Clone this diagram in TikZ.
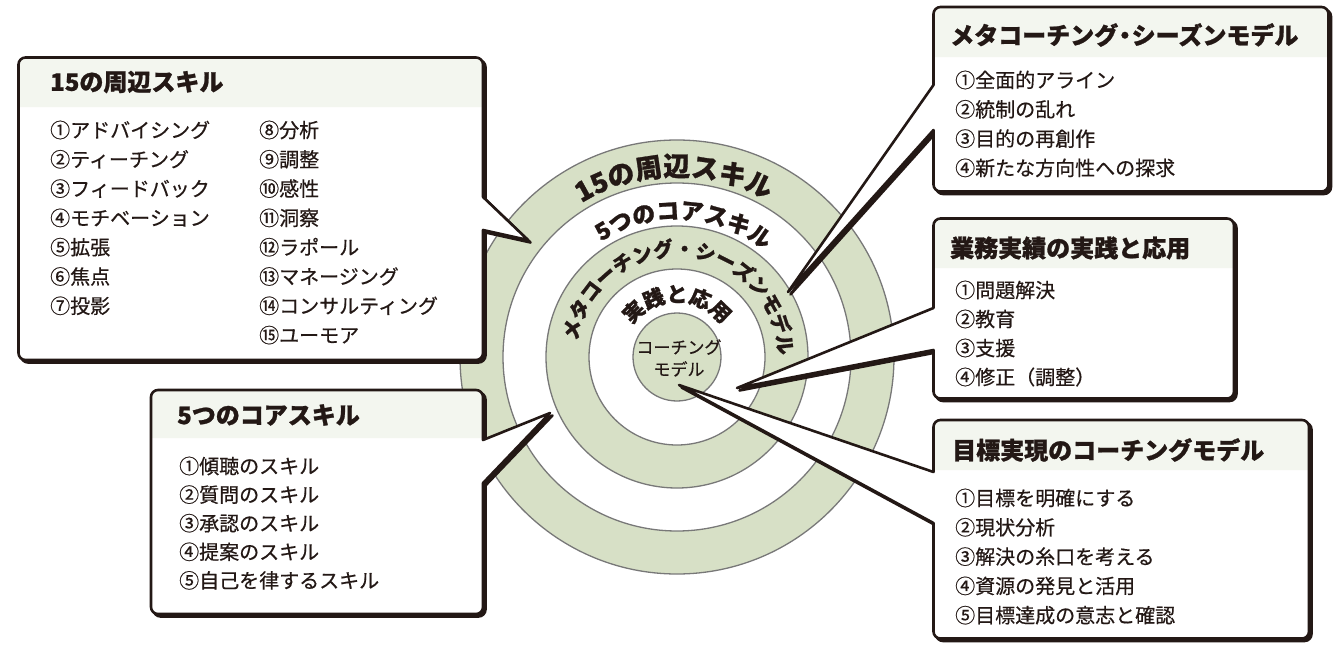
\documentclass[tikz,border=0pt]{standalone}
\usepackage{fontspec}
\setmainfont{Noto Sans CJK JP}
\newfontfamily\heavyjp[FakeBold=1]{Noto Sans CJK JP}
\newfontfamily\itemjp[FakeBold=0.5]{Noto Sans CJK JP}
\usetikzlibrary{decorations.text}
\definecolor{ink}{HTML}{231815}
\definecolor{ringgreen}{RGB}{215,224,198}
\definecolor{ringline}{RGB}{120,120,120}
\definecolor{headfill}{RGB}{243,246,239}
\def\rr{7}
% callout with tail on the right edge: x1 y1 x2 y2 ta tb tipx tipy
\newcommand\boxpathR[8]{(#1,#2+\rr) arc[start angle=180,end angle=270,radius=\rr] -- (#3-\rr,#2) arc[start angle=270,end angle=360,radius=\rr] -- (#3,#5) -- (#7,#8) -- (#3,#6) -- (#3,#4-\rr) arc[start angle=0,end angle=90,radius=\rr] -- (#1+\rr,#4) arc[start angle=90,end angle=180,radius=\rr] -- cycle}
% callout with tail on the left edge
\newcommand\boxpathL[8]{(#1,#2+\rr) arc[start angle=180,end angle=270,radius=\rr] -- (#3-\rr,#2) arc[start angle=270,end angle=360,radius=\rr] -- (#3,#4-\rr) arc[start angle=0,end angle=90,radius=\rr] -- (#1+\rr,#4) arc[start angle=90,end angle=180,radius=\rr] -- (#1,#6) -- (#7,#8) -- (#1,#5) -- cycle}
\newcommand\headpath[5]{(#1,#5) -- (#1,#2+\rr) arc[start angle=180,end angle=270,radius=\rr] -- (#3-\rr,#2) arc[start angle=270,end angle=360,radius=\rr] -- (#3,#5) -- cycle}
\newcommand\ringAfont{\color{ink}\heavyjp\bfseries\fontsize{27}{27}\selectfont}
\newcommand\ringBfont{\color{ink}\heavyjp\bfseries\fontsize{23}{23}\selectfont}
\newcommand\ringCfont{\color{ink}\heavyjp\bfseries\fontsize{20}{20}\selectfont}
\newcommand\ringDfont{\color{ink}\heavyjp\bfseries\fontsize{21}{21}\selectfont}
\newcommand\tightdot{\hspace{-0.22em}・\hspace{-0.22em}}
\tikzset{
  ringdisk/.style={draw=ringline, line width=1.3},
  boxshadow/.style={fill=ink, draw=ink, line width=2.6, line join=round, shift={(2.5,2.5)}},
  boxbody/.style={fill=white},
  boxhead/.style={fill=headfill},
  boxborder/.style={draw=ink, line width=2.6, line join=round},
  titletxt/.style={anchor=west, inner sep=0, text=ink, font=\heavyjp\bfseries\fontsize{24}{28}\selectfont},
  itemtxt/.style={anchor=west, inner sep=0, text=ink, font=\itemjp\fontsize{20}{24}\selectfont},
}
\begin{document}
\begin{tikzpicture}[x=1pt,y=-1pt]
\useasboundingbox (0,0) rectangle (1342,645);
\coordinate (C) at (677,357);
% concentric rings
\draw[ringdisk, fill=ringgreen] (C) circle (217);
\draw[ringdisk, fill=white] (C) circle (174);
\draw[ringdisk, fill=ringgreen] (C) circle (131);
\draw[ringdisk, fill=white] (C) circle (88);
\draw[ringdisk, fill=ringgreen] (C) circle (44);
% ring labels
\path[decorate, decoration={text along path, text align=center, text={|\ringAfont|15の周辺スキル}}] (C) ++(179:181) arc[start angle=179,end angle=359,radius=181];
\path[decorate, decoration={text along path, text align=center, text={|\ringBfont|5つのコアスキル}}] (C) ++(183:138) arc[start angle=183,end angle=363,radius=138];
\path[decorate, decoration={text along path, text align=center, text={|\ringCfont|メタコーチング・シーズンモデル}}] (C) ++(184:101) arc[start angle=184,end angle=364,radius=101];
\path[decorate, decoration={text along path, text align=center, text={|\ringDfont|実践と応用}}] (C) ++(180:55) arc[start angle=180,end angle=360,radius=55];
\node[align=center, inner sep=0, text=ink, font=\itemjp\fontsize{17}{22}\selectfont] (core) at (679,358) {コーチング\\モデル};

% Box 1: 15の周辺スキル
\filldraw[boxshadow] \boxpathR{18.5}{57.5}{483}{360}{197}{230}{528}{240};
\fill[boxbody] \boxpathR{18.5}{57.5}{483}{360}{197}{230}{528}{240};
\fill[boxhead] \headpath{18.5}{57.5}{483}{360}{107};
\draw[boxborder] \boxpathR{18.5}{57.5}{483}{360}{197}{230}{528}{240};
\node[titletxt] (t1) at (50,82) {15の周辺スキル};
\foreach \t [count=\i] in {①アドバイシング,②ティーチング,③フィードバック,④モチベーション,⑤拡張,⑥焦点,⑦投影}
  \node[itemtxt] (a\i) at (50,{130+29.3*(\i-1)}) {\t};
\foreach \t [count=\i from 8] in {⑧分析,⑨調整,⑩感性,⑪洞察,⑫ラポール,⑬マネージング,⑭コンサルティング,⑮ユーモア}
  \node[itemtxt] (a\i) at (259,{130+29.3*(\i-8)}) {\t};

% Box 2: 5つのコアスキル
\filldraw[boxshadow] \boxpathR{151}{390}{483}{614}{440}{483}{550}{413};
\fill[boxbody] \boxpathR{151}{390}{483}{614}{440}{483}{550}{413};
\fill[boxhead] \headpath{151}{390}{483}{614}{438};
\draw[boxborder] \boxpathR{151}{390}{483}{614}{440}{483}{550}{413};
\node[titletxt] (t2) at (177,415) {5つのコアスキル};
\foreach \t [count=\i] in {①傾聴のスキル,②質問のスキル,③承認のスキル,④提案のスキル,⑤自己を律するスキル}
  \node[itemtxt] (b\i) at (179,{466+28.6*(\i-1)}) {\t};

% Box 3: メタコーチング・シーズンモデル
\filldraw[boxshadow] \boxpathL{933.5}{7}{1328.5}{191.5}{85}{130}{788}{292};
\fill[boxbody] \boxpathL{933.5}{7}{1328.5}{191.5}{85}{130}{788}{292};
\fill[boxhead] \headpath{933.5}{7}{1328.5}{191.5}{57};
\draw[boxborder] \boxpathL{933.5}{7}{1328.5}{191.5}{85}{130}{788}{292};
\node[titletxt] (t3) at (950,35) {メタコーチング\tightdot シーズンモデル};
\foreach \t [count=\i] in {①全面的アライン,②統制の乱れ,③目的の再創作,④新たな方向性への探求}
  \node[itemtxt] (c\i) at (955,{80+29.3*(\i-1)}) {\t};

% Box 4: 業務実績の実践と応用
\filldraw[boxshadow] \boxpathL{933.5}{218.5}{1234}{398.5}{308}{350}{737}{388};
\fill[boxbody] \boxpathL{933.5}{218.5}{1234}{398.5}{308}{350}{737}{388};
\fill[boxhead] \headpath{933.5}{218.5}{1234}{398.5}{268};
\draw[boxborder] \boxpathL{933.5}{218.5}{1234}{398.5}{308}{350}{737}{388};
\node[titletxt] (t4) at (950,248) {業務実績の実践と応用};
\foreach \t [count=\i] in {①問題解決,②教育,③支援,④修正（調整）}
  \node[itemtxt] (d\i) at (955,{290+29*(\i-1)}) {\t};

% Box 5: 目標実現のコーチングモデル
\filldraw[boxshadow] \boxpathL{933.5}{420}{1309}{638.5}{472}{523}{679}{385};
\fill[boxbody] \boxpathL{933.5}{420}{1309}{638.5}{472}{523}{679}{385};
\fill[boxhead] \headpath{933.5}{420}{1309}{638.5}{470};
\draw[boxborder] \boxpathL{933.5}{420}{1309}{638.5}{472}{523}{679}{385};
\node[titletxt] (t5) at (952,450) {目標実現のコーチングモデル};
\foreach \t [count=\i] in {①目標を明確にする,②現状分析,③解決の糸口を考える,④資源の発見と活用,⑤目標達成の意志と確認}
  \node[itemtxt] (e\i) at (955,{498+29.3*(\i-1)}) {\t};
\end{tikzpicture}
\end{document}
